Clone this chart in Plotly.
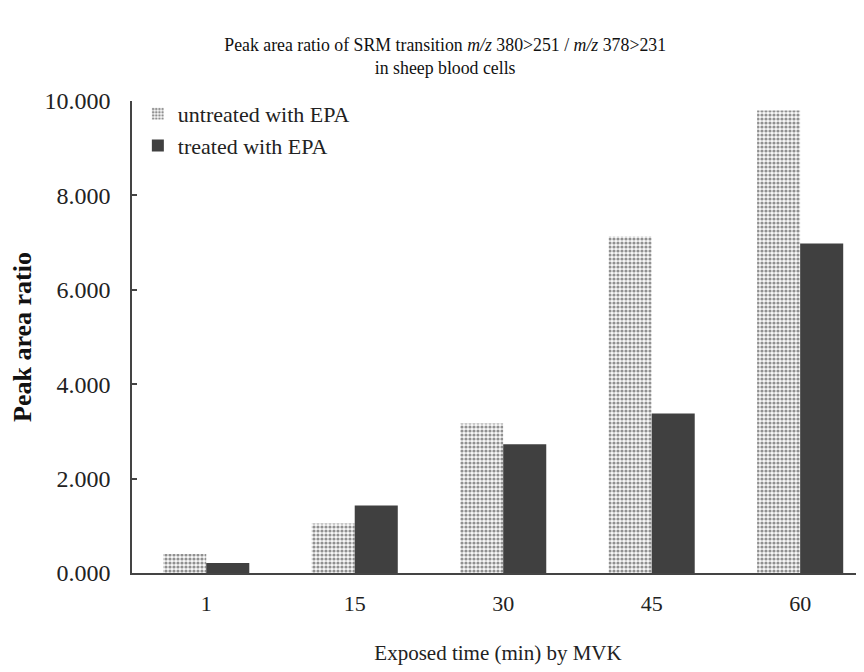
import plotly.graph_objects as go

categories = ["1", "15", "30", "45", "60"]
untreated = [0.40, 1.05, 3.17, 7.13, 9.80]
treated = [0.21, 1.43, 2.73, 3.38, 6.98]
y_ticks = [0, 2, 4, 6, 8, 10]

FONT = "Liberation Serif"

fig = go.Figure()
fig.add_trace(go.Bar(
    x=categories, y=untreated, name="untreated with EPA",
    marker=dict(color="#ffffff",
                pattern=dict(shape=".", fgcolor="#2a2a2a", bgcolor="#f7f7f7",
                             size=4, solidity=0.5),
                line=dict(width=0)),
))
fig.add_trace(go.Bar(
    x=categories, y=treated, name="treated with EPA",
    marker=dict(color="#404040", line=dict(width=0)),
))

fig.update_layout(
    width=864, height=672,
    paper_bgcolor="white", plot_bgcolor="white",
    margin=dict(l=124, r=8, t=93, b=107, autoexpand=False),
    barmode="group", bargap=0.42, bargroupgap=0,
    font=dict(family=FONT, color="#222222"),
    title=dict(
        text="Peak area ratio of SRM transition <i>m/z</i> 380>251 / <i>m/z</i> 378>231<br>in sheep blood cells",
        x=0.506, xanchor="center", xref="container",
        y=0.9355, yanchor="top", yref="container",
        font=dict(family=FONT, size=17.8, color="#111111"),
    ),
    legend=dict(
        x=0.008, y=1.017, xanchor="left", yanchor="top",
        font=dict(family=FONT, size=22, color="#222222"),
        bgcolor="rgba(0,0,0,0)", tracegroupgap=0, itemwidth=30,
    ),
    xaxis=dict(
        automargin=False,
        range=[-0.5, 4.43],
        showline=True, linecolor="#444444", linewidth=1.5,
        ticks="", showgrid=False,
        tickfont=dict(family=FONT, size=22, color="#222222"),
        ticklabelstandoff=10,
        title=dict(text="Exposed time (min) by MVK", standoff=30,
                   font=dict(family=FONT, size=21, color="#222222")),
    ),
    yaxis=dict(
        automargin=False,
        range=[0, 10], tickvals=y_ticks, tickformat=".3f",
        showline=True, linecolor="#444444", linewidth=1.5,
        ticks="inside", ticklen=5, tickcolor="#444444", tickwidth=1.5,
        showgrid=False, zeroline=False,
        tickfont=dict(family=FONT, size=24, color="#222222"),
        ticklabelstandoff=15,
        title=dict(text="<b>Peak area ratio</b>", standoff=18,
                   font=dict(family=FONT, size=26, color="#111111")),
    ),
)

fig.write_html("out.html")
